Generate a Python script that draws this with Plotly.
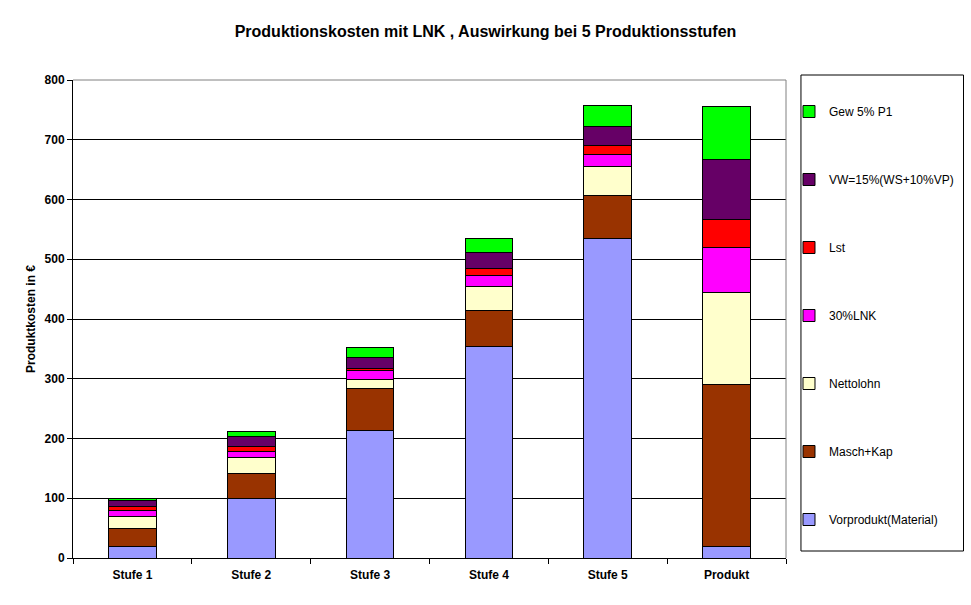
import plotly.graph_objects as go

categories = ["Stufe 1", "Stufe 2", "Stufe 3", "Stufe 4", "Stufe 5", "Produkt"]
vorprodukt = [20, 100, 213, 354, 535, 20]
masch_kap = [30, 41, 70, 60, 71, 270]
nettolohn = [20, 27, 15, 41, 49, 154]
lnk30 = [9, 11, 15, 17, 20, 76]
lst = [7, 8, 4, 13, 15, 46]
vw = [10, 16, 19, 26, 32, 101]
gew = [4, 9, 16, 24, 35, 89]

series = [
    ("Vorprodukt(Material)", vorprodukt, "#9999FF"),
    ("Masch+Kap", masch_kap, "#993300"),
    ("Nettolohn", nettolohn, "#FFFFCC"),
    ("30%LNK", lnk30, "#FF00FF"),
    ("Lst", lst, "#FF0000"),
    ("VW=15%(WS+10%VP)", vw, "#660066"),
    ("Gew 5% P1", gew, "#00FF00"),
]

FONT = "Liberation Sans, Arial, sans-serif"

fig = go.Figure()
n = len(series)
for i, (name, vals, col) in enumerate(series):
    fig.add_trace(go.Bar(
        x=categories, y=vals, name=name, legendgroup=f"g{i}",
        legendrank=n - i,
        marker=dict(color=col, line=dict(color="black", width=1)),
    ))

# plot area: x 73..788, y 80..558
L, R, T, B = 73, 788, 80, 558
W, H = 971, 605

def px_x(p):
    return (p - L) / (R - L)

def px_y(p):
    return (B - p) / (B - T)

fig.update_layout(
    width=W, height=H, autosize=False,
    margin=dict(l=L, r=W - R, t=T, b=H - B),
    barmode="stack", bargap=0.6,
    paper_bgcolor="white", plot_bgcolor="white",
    font=dict(family=FONT, color="black", size=12),
    title=dict(
        text="<b>Produktionskosten mit LNK , Auswirkung bei 5 Produktionsstufen</b>",
        x=0.5, xref="container", xanchor="center",
        y=1 - 31 / H, yref="container", yanchor="middle",
        font=dict(family=FONT, size=16, color="black"),
    ),
    xaxis=dict(
        showline=True, linecolor="black", linewidth=1,
        ticks="outside", ticklen=5, tickcolor="black", tickson="boundaries",
        tickfont=dict(family=FONT, size=12, color="black", weight="bold"),
        ticklabelstandoff=6,
        showgrid=False,
    ),
    yaxis=dict(
        range=[0, 800], dtick=100, tick0=0,
        showline=True, linecolor="black", linewidth=1,
        ticks="outside", ticklen=5, tickcolor="black",
        tickfont=dict(family=FONT, size=12, color="black", weight="bold"),
        showgrid=True, gridcolor="black", gridwidth=1,
        title=dict(text="<b>Produktkosten in €</b>", font=dict(family=FONT, size=12, color="black"), standoff=6),
    ),
    legend=dict(
        traceorder="grouped", tracegroupgap=49,
        x=px_x(791), xanchor="left", y=px_y(97), yanchor="top",
        font=dict(family=FONT, size=12, color="black"),
        bgcolor="rgba(0,0,0,0)", borderwidth=0,
    ),
    shapes=[
        dict(type="line", xref="paper", yref="paper", x0=0, x1=1, y0=1, y1=1,
             line=dict(color="#808080", width=1), layer="above"),
        dict(type="line", xref="paper", yref="paper", x0=1, x1=1, y0=0, y1=1,
             line=dict(color="#808080", width=1), layer="above"),
        dict(type="rect", xref="paper", yref="paper",
             x0=px_x(803), x1=px_x(966), y0=px_y(551), y1=px_y(75),
             line=dict(color="black", width=1), fillcolor="rgba(0,0,0,0)"),
    ],
)

fig.write_html("out.html")
